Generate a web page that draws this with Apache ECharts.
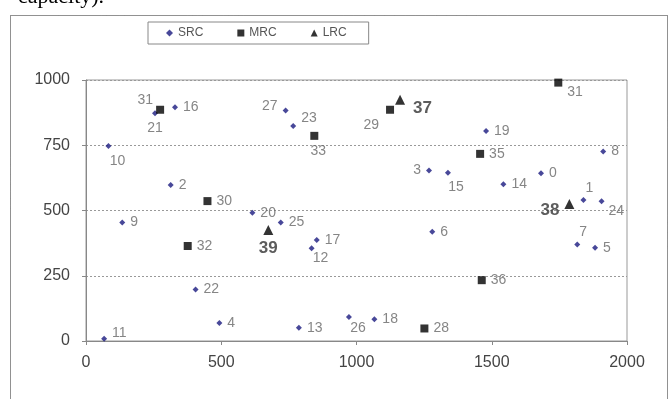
<!DOCTYPE html>
<html><head><meta charset="utf-8">
<script src="https://cdn.jsdelivr.net/npm/echarts@6/dist/echarts.min.js"></script>
<style>html,body{margin:0;padding:0;background:#fff}#c{width:670px;height:399px}</style>
</head><body><div id="c"></div>
<script>
// ---- data ----
const srcNames = ['0','1','2','3','4','5','6','7','8','9','10','11','12','13','14','15','16','17','18','19','20','21','22','23','24','25','26','27'];
const srcX = [1682,1839,313,1268,493,1882,1280,1816,1912,134,83,67,834,787,1543,1338,329,853,1066,1479,615,255,405,766,1906,720,972,738];
const srcY = [643,540,598,653,69,357,419,370,726,454,747,9,355,51,601,645,896,387,83,805,491,873,197,824,535,454,92,883];
const mrcNames = ['28','29','30','31','32','33','31','35','36'];
const mrcX = [1251,1124,449,1746,376,844,274,1457,1463];
const mrcY = [48,886,536,990,364,786,886,717,233];
const lrcNames = ['37','38','39'];
const lrcX = [1161,1787,674];
const lrcY = [924,525,425];
const xTicks = [0,500,1000,1500,2000];
const yTicks = [0,250,500,750,1000];

// ---- label placement (style only) ----
const srcLab = {
 '1':['top',[6,3]], '3':['left',[0,0]], '7':['top',[6,3]], '10':['bottom',[9,0]],
 '11':['right',[0,-6]], '12':['bottom',[9,-5]], '15':['bottom',[8,-1]], '21':['bottom',[0,0]],
 '23':['right',[0,-8]], '24':['right',[-1,10]], '26':['bottom',[9,-4]], '27':['left',[0,-4]]
};
const mrcLab = {'29':['left',[-2,15]], '33':['bottom',[4,-1]]};
const mrcLabIdx = {3:['right',[0,10]], 6:['left',[2,-10]]};
const lrcLab = {'37':['right',[3,8]], '38':['left',[0,6]], '39':['bottom',[0,0]]};

function build(xs, ys, names, lookup, idxLookup){
  return xs.map((x,i)=>{
    let p = (idxLookup && idxLookup[i]) || lookup[names[i]] || ['right',[0,0]];
    return {value:[x, ys[i], names[i]], label:{position:p[0], offset:p[1]}};
  });
}

const chart = echarts.init(document.getElementById('c'));
const labBase = {show:true, formatter:p=>p.value[2], color:'#666', fontFamily:'Liberation Sans, Arial', fontSize:14, distance:5};
chart.setOption({
  animation:false,
  backgroundColor:'#fff',
  grid:{left:86, right:43, top:80, bottom:58, show:true, borderColor:'#999', borderWidth:1, backgroundColor:'transparent'},
  legend:{
    top:22, left:148, itemGap:34, padding:[5,22,5,18],
    borderColor:'#888', borderWidth:1, itemWidth:7, itemHeight:7,
    textStyle:{color:'#555', fontSize:12, fontFamily:'Liberation Sans, Arial'},
    data:[{name:'SRC', icon:'diamond'},{name:'MRC', icon:'rect'},{name:'LRC', icon:'triangle'}]
  },
  xAxis:{type:'value', min:xTicks[0], max:xTicks[xTicks.length-1], interval:500,
    axisLine:{lineStyle:{color:'#888'}}, axisTick:{show:true, length:4, lineStyle:{color:'#888'}},
    axisLabel:{color:'#444', fontSize:16, margin:14, fontFamily:'Liberation Sans, Arial', formatter:v=>String(v)}, splitLine:{show:false}},
  yAxis:{type:'value', min:yTicks[0], max:yTicks[yTicks.length-1], interval:250,
    axisLine:{show:true, lineStyle:{color:'#888'}}, axisTick:{show:true, length:4, lineStyle:{color:'#888'}},
    axisLabel:{color:'#444', fontSize:16, margin:16, fontFamily:'Liberation Sans, Arial', formatter:v=>String(v)},
    splitLine:{show:true, lineStyle:{color:'#999', type:[2,2], width:1}}},
  graphic:[
    {type:'rect', shape:{x:10.5, y:15.5, width:657, height:400}, style:{fill:'none', stroke:'#222', lineWidth:1, lineDash:[1,1]}, z:-1},
    {type:'text', left:18, top:-14, style:{text:'capacity).', fill:'#000', font:'22px "Liberation Serif", "Times New Roman", serif'}}
  ],
  series:[
    {name:'SRC', type:'scatter', symbol:'diamond', symbolSize:6, itemStyle:{color:'#1a1a80'},
     label:Object.assign({}, labBase), data:build(srcX, srcY, srcNames, srcLab)},
    {name:'MRC', type:'scatter', symbol:'rect', symbolSize:8, itemStyle:{color:'#000'},
     label:Object.assign({}, labBase), data:build(mrcX, mrcY, mrcNames, mrcLab, mrcLabIdx)},
    {name:'LRC', type:'scatter', symbol:'triangle', symbolSize:10, itemStyle:{color:'#000'},
     label:Object.assign({}, labBase, {fontSize:17, fontWeight:'bold', color:'#333'}), data:build(lrcX, lrcY, lrcNames, lrcLab)}
  ]
});
</script></body></html>
